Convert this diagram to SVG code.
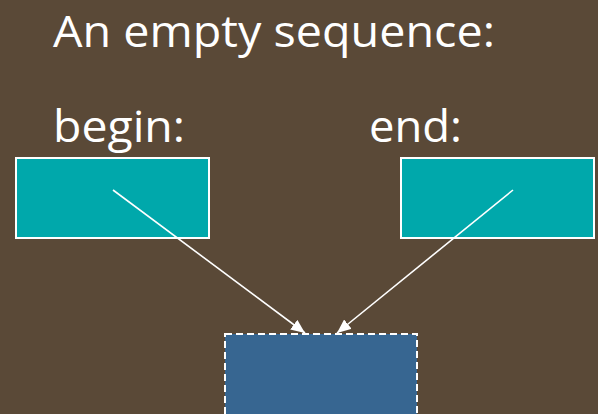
<svg xmlns="http://www.w3.org/2000/svg" width="598" height="414" viewBox="0 0 598 414">
<style>
.t{font-family:"Open Sans","Liberation Sans",sans-serif;fill:#fff;font-size:44px}
.box{fill:#00a8ab;stroke:#fff;stroke-width:2}
.conn{stroke:#fff;stroke-width:1.6;fill:none;marker-end:url(#ah)}
</style>
<defs>
<marker id="ah" viewBox="0 0 14 12" refX="14" refY="6" markerWidth="14" markerHeight="12" markerUnits="userSpaceOnUse" orient="auto">
<path d="M0,0 L14,6 L0,12 z" fill="#fff"/>
</marker>
</defs>
<rect width="598" height="414" fill="#5a4937"/>
<text class="t" x="53" y="47" textLength="442" lengthAdjust="spacingAndGlyphs">An empty sequence:</text>
<g id="begin">
<text class="t" x="53" y="142" textLength="132" lengthAdjust="spacingAndGlyphs">begin:</text>
<rect class="box" x="16" y="158" width="193" height="80"/>
</g>
<g id="end">
<text class="t" x="369" y="142" textLength="93" lengthAdjust="spacingAndGlyphs">end:</text>
<rect class="box" x="401" y="158" width="193" height="80"/>
</g>
<g id="empty">
<rect x="225" y="334" width="192" height="90" fill="#376691" stroke="#fff" stroke-width="2" stroke-dasharray="7,4"/>
</g>
<g id="connectors">
<line class="conn" x1="113" y1="190" x2="305" y2="333"/>
<line class="conn" x1="513" y1="190" x2="337" y2="333"/>
</g>
</svg>
